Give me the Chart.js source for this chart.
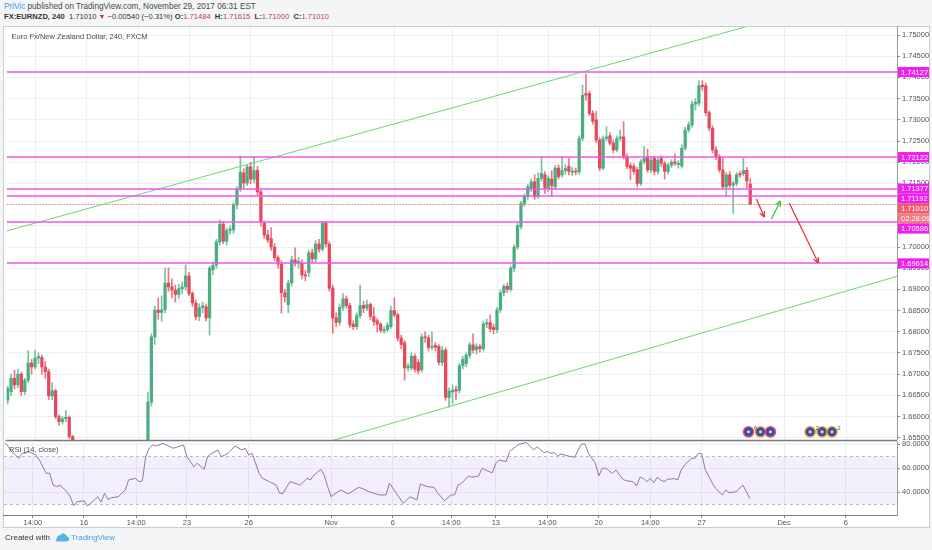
<!DOCTYPE html>
<html lang="en">
<head>
<meta charset="UTF-8">
<title>EURNZD 240</title>
<script src="https://cdn.jsdelivr.net/npm/chart.js@4/dist/chart.umd.min.js"></script>
<style>
  html, body { margin: 0; padding: 0; }
  body { width: 932px; height: 550px; overflow: hidden; position: relative; background: #f3f5f7;
         font-family: "Liberation Sans", Arial, sans-serif; color: #4a4a4a; }
  #h1 { position: absolute; left: 4px; top: 2px; font-size: 8.2px; line-height: 10px; white-space: nowrap; }
  #h1 .user { color: #3d9be0; }
  #h2 { position: absolute; left: 4px; top: 12px; font-size: 7.6px; line-height: 10px; white-space: nowrap; color: #333; }
  #h2 b { font-weight: bold; }
  #h2 .v { color: #c93a4c; }
  #h2 .dn { color: #d92b2b; font-size: 7px; }
  #box { position: absolute; left: 3px; top: 26px; width: 925px; height: 500px; background: #fff; border: 1px solid #c9ccd0; }
  canvas { position: absolute; left: 0; top: 0; }
  #foot { position: absolute; left: 5px; top: 533px; font-size: 8px; line-height: 10px; color: #333; white-space: nowrap; }
  #foot svg { vertical-align: -2px; margin: 0 2px 0 5px; }
  #foot .tv { color: #3ea0e0; }
</style>
</head>
<body>
<div id="h1"><span class="user">PriVic</span> published on TradingView.com, November 29, 2017 06:31 EST</div>
<div id="h2"></div>
<div id="box"></div>
<canvas id="price" width="932" height="550"></canvas>
<canvas id="rsi" width="932" height="550"></canvas>
<div id="foot">Created with<svg width="14" height="9" viewBox="0 0 14 9"><path d="M2 8.5h9.5a2.5 2.5 0 0 0 .3-5A3.6 3.6 0 0 0 5 2.4 2.6 2.6 0 0 0 2 5.6 1.5 1.5 0 0 0 2 8.5z" fill="#5ab3e6"/></svg><span class="tv">TradingView</span></div>
<script>
// candles: index of the first candle, then O/H/L/C per 4h bar
const firstIdx = 1;
const opens = [
  1.6639,1.6659,1.6690,1.6675,1.6700,1.6659,1.6686,1.6726,1.6717,1.6738,
  1.6740,1.6717,1.6706,1.6649,1.6661,1.6600,1.6588,1.6595,1.6598,1.6553,
  1.6540,1.6520,1.6495,1.6505,1.6480,1.6470,1.6478,1.6465,1.6482,1.6490,
  1.6475,1.6488,1.6495,1.6486,1.6500,1.6510,1.6518,1.6508,1.6522,1.6530,
  1.6535,1.6520,1.6634,1.6788,1.6851,1.6846,1.6852,1.6915,1.6906,1.6898,
  1.6888,1.6902,1.6906,1.6932,1.6890,1.6868,1.6836,1.6857,1.6859,1.6833,
  1.6946,1.6957,1.7012,1.7054,1.7014,1.7039,1.7040,1.7099,1.7137,1.7175,
  1.7151,1.7189,1.7160,1.7181,1.7130,1.7057,1.7028,1.7020,1.7000,1.6975,
  1.6960,1.6892,1.6864,1.6915,1.6970,1.6962,1.6962,1.6934,1.6940,1.6986,
  1.6972,1.7007,1.6995,1.7057,1.7007,1.6903,1.6833,1.6822,1.6858,1.6878,
  1.6862,1.6818,1.6812,1.6838,1.6862,1.6856,1.6864,1.6836,1.6826,1.6818,
  1.6802,1.6805,1.6812,1.6850,1.6840,1.6785,1.6774,1.6715,1.6715,1.6742,
  1.6728,1.6710,1.6788,1.6786,1.6763,1.6768,1.6766,1.6728,1.6757,1.6645,
  1.6658,1.6664,1.6662,1.6720,1.6725,1.6745,1.6769,1.6757,1.6765,1.6760,
  1.6818,1.6822,1.6810,1.6805,1.6852,1.6892,1.6907,1.6900,1.6950,1.7000,
  1.7048,1.7103,1.7119,1.7138,1.7154,1.7119,1.7162,1.7170,1.7138,1.7160,
  1.7142,1.7186,1.7170,1.7180,1.7190,1.7176,1.7179,1.7177,1.7256,1.7362,
  1.7362,1.7315,1.7300,1.7252,1.7186,1.7256,1.7262,1.7245,1.7229,1.7256,
  1.7260,1.7213,1.7192,1.7190,1.7182,1.7150,1.7201,1.7213,1.7182,1.7209,
  1.7178,1.7209,1.7197,1.7178,1.7193,1.7201,1.7195,1.7191,1.7233,1.7276,
  1.7288,1.7337,1.7339,1.7382,1.7380,1.7317,1.7280,1.7229,1.7213,1.7182,
  1.7142,1.7170,1.7146,1.7150,1.7173,1.7173,1.7181,1.71484
];
const highs = [
  1.6672,1.6700,1.6710,1.6712,1.6705,1.6690,1.6755,1.6735,1.6757,1.6750,
  1.6745,1.6730,1.6712,1.6680,1.6665,1.6605,1.6600,1.6615,1.6602,1.6556,
  1.6544,1.6528,1.6512,1.6510,1.6488,1.6485,1.6482,1.6490,1.6497,1.6494,
  1.6492,1.6500,1.6499,1.6505,1.6516,1.6524,1.6522,1.6528,1.6536,1.6540,
  1.6539,1.6658,1.6795,1.6860,1.6880,1.6885,1.6950,1.6951,1.6925,1.6910,
  1.6912,1.6918,1.6958,1.6940,1.6895,1.6875,1.6866,1.6870,1.6866,1.6955,
  1.6965,1.7018,1.7064,1.7060,1.7045,1.7050,1.7105,1.7142,1.7215,1.7185,
  1.7195,1.7200,1.7213,1.7190,1.7135,1.7062,1.7040,1.7046,1.7008,1.6980,
  1.6968,1.6900,1.6922,1.6978,1.6998,1.6975,1.6970,1.6945,1.6992,1.6995,
  1.7015,1.7018,1.7060,1.7059,1.7012,1.6910,1.6845,1.6866,1.6890,1.6885,
  1.6868,1.6826,1.6845,1.6910,1.6872,1.6875,1.6868,1.6858,1.6832,1.6822,
  1.6812,1.6822,1.6860,1.6880,1.6845,1.6792,1.6780,1.6726,1.6750,1.6748,
  1.6735,1.6795,1.6800,1.6792,1.6800,1.6775,1.6770,1.6765,1.6762,1.6668,
  1.6675,1.6672,1.6726,1.6742,1.6750,1.6775,1.6795,1.6772,1.6770,1.6825,
  1.6830,1.6840,1.6818,1.6858,1.6898,1.6912,1.6915,1.6955,1.7005,1.7055,
  1.7108,1.7125,1.7148,1.7160,1.7170,1.7175,1.7213,1.7178,1.7168,1.7180,
  1.7192,1.7194,1.7213,1.7195,1.7210,1.7188,1.7186,1.7262,1.7382,1.7408,
  1.7368,1.7322,1.7320,1.7258,1.7262,1.7284,1.7270,1.7252,1.7262,1.7276,
  1.7296,1.7220,1.7198,1.7196,1.7188,1.7206,1.7237,1.7231,1.7212,1.7214,
  1.7210,1.7215,1.7202,1.7198,1.7206,1.7220,1.7204,1.7241,1.7282,1.7295,
  1.7344,1.7350,1.7392,1.7392,1.7386,1.7322,1.7286,1.7236,1.7218,1.7209,
  1.7176,1.7178,1.7155,1.7176,1.7178,1.7209,1.7188,1.71615
];
const lows = [
  1.6630,1.6650,1.6665,1.6668,1.6650,1.6652,1.6680,1.6700,1.6712,1.6725,
  1.6700,1.6690,1.6640,1.6640,1.6595,1.6580,1.6582,1.6588,1.6548,1.6530,
  1.6512,1.6488,1.6488,1.6474,1.6462,1.6465,1.6458,1.6460,1.6475,1.6470,
  1.6470,1.6482,1.6480,1.6481,1.6495,1.6504,1.6502,1.6503,1.6516,1.6524,
  1.6515,1.6512,1.6625,1.6770,1.6830,1.6825,1.6845,1.6895,1.6880,1.6870,
  1.6878,1.6890,1.6898,1.6885,1.6860,1.6828,1.6826,1.6845,1.6825,1.6792,
  1.6935,1.6950,1.7005,1.7008,1.7005,1.7030,1.7032,1.7090,1.7130,1.7140,
  1.7145,1.7150,1.7152,1.7122,1.7050,1.7020,1.7010,1.6992,1.6968,1.6950,
  1.6844,1.6870,1.6845,1.6908,1.6955,1.6950,1.6925,1.6920,1.6930,1.6965,
  1.6965,1.6988,1.6990,1.7000,1.6895,1.6797,1.6812,1.6815,1.6850,1.6855,
  1.6810,1.6805,1.6806,1.6832,1.6845,1.6850,1.6828,1.6815,1.6800,1.6798,
  1.6796,1.6800,1.6808,1.6835,1.6778,1.6760,1.6686,1.6708,1.6710,1.6705,
  1.6700,1.6705,1.6775,1.6755,1.6758,1.6755,1.6722,1.6720,1.6638,1.6622,
  1.6630,1.6640,1.6655,1.6712,1.6718,1.6738,1.6750,1.6748,1.6752,1.6755,
  1.6810,1.6800,1.6795,1.6798,1.6845,1.6885,1.6893,1.6895,1.6942,1.6995,
  1.7042,1.7096,1.7112,1.7130,1.7112,1.7114,1.7155,1.7126,1.7130,1.7120,
  1.7136,1.7160,1.7165,1.7172,1.7170,1.7168,1.7170,1.7172,1.7250,1.7346,
  1.7310,1.7290,1.7246,1.7180,1.7182,1.7250,1.7240,1.7222,1.7224,1.7250,
  1.7208,1.7185,1.7158,1.7172,1.7142,1.7145,1.7196,1.7176,1.7176,1.7170,
  1.7172,1.7190,1.7160,1.7172,1.7188,1.7192,1.7186,1.7186,1.7228,1.7270,
  1.7282,1.7323,1.7333,1.7370,1.7310,1.7274,1.7222,1.7206,1.7176,1.7136,
  1.7119,1.7140,1.7079,1.7144,1.7164,1.7168,1.7140,1.71000
];
const closes = [
  1.6667,1.6690,1.6675,1.6700,1.6659,1.6686,1.6726,1.6717,1.6738,1.6742,
  1.6717,1.6706,1.6649,1.6661,1.6600,1.6588,1.6595,1.6598,1.6553,1.6540,
  1.6520,1.6495,1.6505,1.6480,1.6470,1.6478,1.6465,1.6482,1.6490,1.6475,
  1.6488,1.6495,1.6486,1.6500,1.6510,1.6518,1.6508,1.6522,1.6530,1.6535,
  1.6520,1.6634,1.6788,1.6851,1.6846,1.6852,1.6915,1.6906,1.6898,1.6888,
  1.6902,1.6906,1.6932,1.6890,1.6868,1.6835,1.6857,1.6861,1.6833,1.6950,
  1.6957,1.7012,1.7054,1.7014,1.7039,1.7042,1.7099,1.7137,1.7177,1.7151,
  1.7189,1.7160,1.7180,1.7130,1.7059,1.7028,1.7017,1.7000,1.6975,1.6960,
  1.6892,1.6882,1.6915,1.6970,1.6962,1.6966,1.6934,1.6932,1.6986,1.6972,
  1.7007,1.6995,1.7057,1.7007,1.6903,1.6833,1.6822,1.6858,1.6878,1.6862,
  1.6816,1.6812,1.6838,1.6862,1.6856,1.6864,1.6836,1.6824,1.6818,1.6804,
  1.6805,1.6816,1.6850,1.6840,1.6785,1.6770,1.6715,1.6719,1.6742,1.6712,
  1.6708,1.6788,1.6786,1.6763,1.6766,1.6764,1.6728,1.6757,1.6645,1.6660,
  1.6662,1.6660,1.6720,1.6735,1.6745,1.6769,1.6757,1.6765,1.6760,1.6818,
  1.6822,1.6807,1.6805,1.6852,1.6892,1.6907,1.6900,1.6950,1.7000,1.7050,
  1.7103,1.7119,1.7142,1.7154,1.7119,1.7162,1.7174,1.7138,1.7162,1.7145,
  1.7186,1.7166,1.7180,1.7185,1.7178,1.7179,1.7177,1.7256,1.7358,1.7358,
  1.7315,1.7296,1.7252,1.7186,1.7256,1.7260,1.7245,1.7229,1.7256,1.7260,
  1.7213,1.7190,1.7186,1.7178,1.7150,1.7201,1.7209,1.7182,1.7205,1.7178,
  1.7205,1.7197,1.7178,1.7193,1.7201,1.7197,1.7197,1.7233,1.7276,1.7288,
  1.7337,1.7341,1.7380,1.7378,1.7317,1.7280,1.7229,1.7213,1.7182,1.7142,
  1.7170,1.7146,1.7150,1.7170,1.7170,1.7181,1.7155,1.71010
];

// RSI(14): candle index -> value
const rsiIdx = [1,2,3,5,6,8,10,11,13,14,15,16,17,19,20,21,22,24,25,27,28,29,30,31,32,34,36,37,39,40,
  41,42,43,44,45,47,48,50,53,54,56,57,59,60,61,63,64,65,66,68,70,71,72,73,74,75,76,78,80,81,
  82,84,85,87,89,90,91,93,94,95,96,98,99,101,104,105,107,110,112,113,115,117,119,121,122,124,126,127,129,131,
  132,133,134,135,136,137,139,140,142,143,144,145,147,148,150,151,153,155,156,158,159,160,161,162,163,165,167,168,169,170,
  171,173,174,175,176,178,179,181,182,184,185,186,187,188,189,190,191,192,193,194,196,197,198,199,201,202,203,204,205,207,
  208,210,211,212,214,216,217,218];
const rsiVal = [81.3,78,73.8,68.3,72.5,73.8,71,67,55.8,55.8,46,44.7,46,40.5,36.3,28.6,32.2,32.8,28.6,33.6,36.3,32,39.2,34,35.5,36.3,41.9,50.3,51.6,48.9,
  49.5,70,76.7,79.4,78.6,80.8,79.4,76.7,79.4,69.7,61.3,64.2,59.1,69.7,72,75.3,69.7,71,72.5,78.6,75.3,76.7,71,72.5,64,55.8,51.6,48.9,46,39.2,
  39.2,48.9,48,46,51.6,50.3,54.4,59.1,54.4,44.7,36.3,40.5,41.9,38.6,44.1,43.3,40.5,37.8,37.8,47.5,39.2,30.8,36.3,33.6,46.9,44.7,44.1,39.7,33,37.8,
  37.8,46,47.5,50.3,53.6,52.5,53.6,60,57.2,56.4,64.2,66.9,65.6,73.9,78.6,80.3,81.4,75.3,78,73.1,73.9,72.5,73.1,70.3,72,70.3,69.2,75.3,80.3,80.3,
  72.5,64.2,53.6,60,60,55.8,58.6,50.8,49.7,48.9,45.3,52.5,51.6,48.9,51.6,48,52.5,50.3,48.9,50.8,51.4,50.3,58.6,62.8,68.3,68.3,72.5,72,59.1,48,
  43.3,37.8,41.9,39.7,40.5,46,40.5,35];

// axes
const xTickIdx = [9.1, 24, 39.2, 54, 72, 96, 114, 131, 144, 159, 174, 189, 204, 228, 246];
const xTickLabels = ['14:00','16','14:00','23','26','Nov','6','14:00','13','14:00','20','14:00','27','Dec','6'];
const priceTicks = [1.655,1.66,1.665,1.67,1.675,1.68,1.685,1.69,1.695,1.70,1.705,1.71,1.715,1.72,1.725,1.73,1.735,1.74,1.745,1.75];
const rsiTicks = [40, 60, 80];
const xRange = [0.69, 260.89];
const priceRange = [1.65448, 1.75189];
const rsiRange = [21.08, 82.75];
const rsiBand = [30, 70];

// drawings on the chart
const levelPrices = [1.74127, 1.72122, 1.71377, 1.71192, 1.70586, 1.69614];
const upperTrendIdx = [0, 240];
const upperTrendPrice = [1.70362, 1.75714];
const lowerTrendIdx = [95, 262];
const lowerTrendPrice = [1.65414, 1.69335];
const arrowFromIdx = [219.8, 224.2, 229.4];
const arrowFromPrice = [1.71132, 1.70660, 1.71038];
const arrowToIdx = [222.1, 226.8, 237.9];
const arrowToPrice = [1.70708, 1.71085, 1.69623];
const arrowColors = ['#e62a2f', '#3cc43c', '#e62a2f'];
const eventIdx = [217.5, 221, 223.9, 235.5, 239, 241.9];
const eventPrice = 1.6564;
const eventRing = ['#e9507f', '#f0a33a', '#e9507f', '#f0a33a', '#f0a33a', '#f0a33a'];
const eventBadge = ['6', '', '', '2', '', '2'];
const countdown = '02:28:09';

const FONT = '"Liberation Sans", Arial, sans-serif';
const GREEN = '#4cae80', RED = '#e5495b';
const GRID = '#eceff2';

const last = closes.length - 1;
const fmt = v => v.toFixed(5);
const chg = closes[last] - closes[last - 1];
document.getElementById('h2').innerHTML =
  `<b>FX:EURNZD, 240</b>&nbsp; ${fmt(closes[last])} <span class="dn">${chg < 0 ? '▼' : '▲'}</span> ` +
  `${chg < 0 ? '−' : '+'}${fmt(Math.abs(chg))} (${chg < 0 ? '−' : '+'}${(Math.abs(chg) / closes[last - 1] * 100).toFixed(2)}%) ` +
  `<b>O:</b><span class="v">${fmt(opens[last])}</span>&nbsp; <b>H:</b><span class="v">${fmt(highs[last])}</span>&nbsp; ` +
  `<b>L:</b><span class="v">${fmt(lows[last])}</span>&nbsp; <b>C:</b><span class="v">${fmt(closes[last])}</span>`;

const idxs = opens.map((_, k) => firstIdx + k);
const isUp = k => closes[k] >= opens[k];

function line(ctx, x1, y1, x2, y2) { ctx.beginPath(); ctx.moveTo(x1, y1); ctx.lineTo(x2, y2); ctx.stroke(); }

const pricePane = {
  id: 'pricePane',
  afterDatasetsDraw(chart) {
    const { ctx, chartArea: a, scales: { x, y } } = chart;
    ctx.save();
    ctx.beginPath(); ctx.rect(a.left, a.top, a.right - a.left, a.bottom - a.top); ctx.clip();
    ctx.lineWidth = 1.5;
    ctx.strokeStyle = '#f055f0';
    levelPrices.forEach(p => { const py = Math.round(y.getPixelForValue(p)); line(ctx, a.left, py, a.right, py); });
    ctx.lineWidth = 1;
    ctx.setLineDash([1.5, 1.5]);
    ctx.strokeStyle = '#e8848c';
    const cy = Math.round(y.getPixelForValue(closes[last])) + 0.5;
    line(ctx, a.left, cy, a.right, cy);
    ctx.setLineDash([]);
    // arrows
    ctx.lineWidth = 1.2;
    arrowFromIdx.forEach((_, k) => {
      const x1 = x.getPixelForValue(arrowFromIdx[k]), y1 = y.getPixelForValue(arrowFromPrice[k]);
      const x2 = x.getPixelForValue(arrowToIdx[k]), y2 = y.getPixelForValue(arrowToPrice[k]);
      ctx.strokeStyle = arrowColors[k];
      line(ctx, x1, y1, x2, y2);
      const ang = Math.atan2(y2 - y1, x2 - x1);
      [-0.45, 0.45].forEach(d => line(ctx, x2, y2, x2 - 6 * Math.cos(ang + d), y2 - 6 * Math.sin(ang + d)));
    });
    // event badges
    const ev = chart.getDatasetMeta(chart.data.datasets.findIndex(d => d.label === 'events'));
    ctx.font = '6px ' + FONT; ctx.textAlign = 'center'; ctx.textBaseline = 'middle';
    ev.data.forEach((pt, k) => {
      ctx.fillStyle = '#555';
      if (eventBadge[k]) ctx.fillText(eventBadge[k], pt.x + 7, pt.y - 4);
      ctx.fillStyle = '#cdd5f0'; ctx.beginPath(); ctx.arc(pt.x, pt.y, 1.6, 0, Math.PI * 2); ctx.fill();
    });
    ctx.restore();
    ctx.save();
    ctx.font = '7.5px ' + FONT; ctx.fillStyle = '#4d4d4d'; ctx.textBaseline = 'middle';
    ctx.fillText('Euro Fx/New Zealand Dollar, 240, FXCM', a.left + 5, 37);
    ctx.restore();
  },
  afterDraw(chart) {
    const { ctx, chartArea: a, scales: { y } } = chart;
    ctx.save();
    ctx.strokeStyle = '#9a9a9a'; ctx.lineWidth = 1;
    line(ctx, a.right + 0.5, a.top - 1, a.right + 0.5, a.bottom);
    ctx.strokeStyle = '#7a7a7a'; ctx.lineWidth = 1.5;
    line(ctx, a.left - 1, a.bottom + 0.5, a.right, a.bottom + 0.5);
    // price labels on the axis, pushed apart where they collide
    const items = levelPrices.map(p => ({ y: y.getPixelForValue(p), text: fmt(p), bg: '#f01ef0' }));
    items.push({ y: y.getPixelForValue(closes[last]), text: fmt(closes[last]), bg: '#ee5c6b' });
    items.push({ y: y.getPixelForValue(closes[last]) + 0.01, text: countdown, bg: '#f07a85' });
    items.sort((p, q) => p.y - q.y);
    for (let k = 1; k < items.length; k++) if (items[k].y - items[k - 1].y < 10) items[k].y = items[k - 1].y + 10;
    ctx.font = '7.5px ' + FONT; ctx.textBaseline = 'middle'; ctx.textAlign = 'left';
    items.forEach(it => {
      ctx.fillStyle = it.bg; ctx.fillRect(a.right + 1, it.y - 5, 31, 10);
      ctx.fillStyle = '#fff'; ctx.fillText(it.text, a.right + 4, it.y + 0.5);
    });
    ctx.restore();
  }
};

const rsiPane = {
  id: 'rsiPane',
  beforeDatasetsDraw(chart) {
    const { ctx, chartArea: a, scales: { y } } = chart;
    const t = y.getPixelForValue(rsiBand[1]), b = y.getPixelForValue(rsiBand[0]);
    ctx.save();
    ctx.fillStyle = 'rgba(150, 95, 240, 0.10)';
    ctx.fillRect(a.left, t, a.right - a.left, b - t);
    ctx.strokeStyle = '#c2b6cf'; ctx.lineWidth = 1; ctx.setLineDash([3, 3]);
    line(ctx, a.left, Math.round(t) + 0.5, a.right, Math.round(t) + 0.5);
    line(ctx, a.left, Math.round(b) + 0.5, a.right, Math.round(b) + 0.5);
    ctx.restore();
  },
  afterDraw(chart) {
    const { ctx, chartArea: a } = chart;
    ctx.save();
    ctx.font = '7.5px ' + FONT; ctx.fillStyle = '#4d4d4d'; ctx.textBaseline = 'middle';
    ctx.fillText('RSI (14, close)', a.left + 5, a.top + 9);
    ctx.strokeStyle = '#9a9a9a'; ctx.lineWidth = 1;
    line(ctx, a.right + 0.5, a.top, a.right + 0.5, a.bottom + 1);
    ctx.strokeStyle = '#7a7a7a'; ctx.lineWidth = 1.2;
    line(ctx, a.left - 1, a.bottom + 0.5, a.right, a.bottom + 0.5);
    ctx.restore();
  }
};

const xBase = {
  type: 'linear', min: xRange[0], max: xRange[1], offset: false,
  afterBuildTicks: s => { s.ticks = xTickIdx.map(v => ({ value: v })); },
  border: { display: false },
};

new Chart(document.getElementById('price'), {
  type: 'bar',
  data: {
    datasets: [
      { type: 'line', label: 'upper', order: 0, data: upperTrendIdx.map((v, k) => ({ x: v, y: upperTrendPrice[k] })),
        borderColor: '#6ad86a', borderWidth: 1, pointRadius: 0 },
      { type: 'line', label: 'lower', order: 0, data: lowerTrendIdx.map((v, k) => ({ x: v, y: lowerTrendPrice[k] })),
        borderColor: '#6ad86a', borderWidth: 1, pointRadius: 0 },
      { type: 'scatter', label: 'events', order: 0, data: eventIdx.map(v => ({ x: v, y: eventPrice })),
        pointRadius: 5.2, pointBackgroundColor: '#3f4d96', pointBorderColor: eventRing, pointBorderWidth: 1.4 },
      { label: 'body', order: 1, grouped: false, barThickness: 2.6, minBarLength: 1,
        data: idxs.map((v, k) => ({ x: v, y: [opens[k], closes[k]] })),
        backgroundColor: idxs.map((_, k) => isUp(k) ? GREEN : RED) },
      { label: 'wick', order: 2, grouped: false, barThickness: 1,
        data: idxs.map((v, k) => ({ x: v, y: [lows[k], highs[k]] })),
        backgroundColor: idxs.map((_, k) => isUp(k) ? 'rgba(76,174,128,0.75)' : 'rgba(229,73,91,0.75)') },
    ]
  },
  options: {
    responsive: false, animation: false, events: [],
    layout: { padding: { left: 4, top: 27, right: 0, bottom: 110 } },
    plugins: { legend: { display: false }, tooltip: { enabled: false } },
    scales: {
      x: { ...xBase, ticks: { display: false }, grid: { color: GRID, drawTicks: false, offset: false },
           afterFit: s => { s.height = 0; } },
      y: {
        position: 'right', min: priceRange[0], max: priceRange[1],
        afterBuildTicks: s => { s.ticks = priceTicks.map(v => ({ value: v })); },
        ticks: { callback: v => fmt(v), font: { family: FONT, size: 7.5 }, color: '#555', padding: 2, autoSkip: false },
        grid: { color: GRID, tickColor: '#8a8a8a', tickLength: 3 },
        border: { display: false },
        afterFit: s => { s.width = 35; }
      }
    }
  },
  plugins: [pricePane]
});

new Chart(document.getElementById('rsi'), {
  type: 'line',
  data: {
    datasets: [{ data: rsiIdx.map((v, k) => ({ x: v, y: rsiVal[k] })), borderColor: '#8f77a6', borderWidth: 1,
                 pointRadius: 0, tension: 0 }]
  },
  options: {
    responsive: false, animation: false, events: [],
    layout: { padding: { left: 4, top: 441, right: 0, bottom: 22 } },
    plugins: { legend: { display: false }, tooltip: { enabled: false } },
    scales: {
      x: { ...xBase,
           ticks: { callback: v => xTickLabels[xTickIdx.indexOf(v)], font: { family: FONT, size: 7.5 }, color: '#555',
                    padding: 0, autoSkip: false, maxRotation: 0 },
           grid: { color: GRID, tickColor: '#8a8a8a', tickLength: 3, offset: false },
           afterFit: s => { s.height = 13; } },
      y: {
        position: 'right', min: rsiRange[0], max: rsiRange[1],
        afterBuildTicks: s => { s.ticks = rsiTicks.map(v => ({ value: v })); },
        ticks: { callback: v => v.toFixed(4), font: { family: FONT, size: 7.5 }, color: '#555', padding: 2 },
        grid: { color: GRID, tickColor: '#8a8a8a', tickLength: 3 },
        border: { display: false },
        afterFit: s => { s.width = 35; }
      }
    }
  },
  plugins: [rsiPane]
});
</script>
</body>
</html>
